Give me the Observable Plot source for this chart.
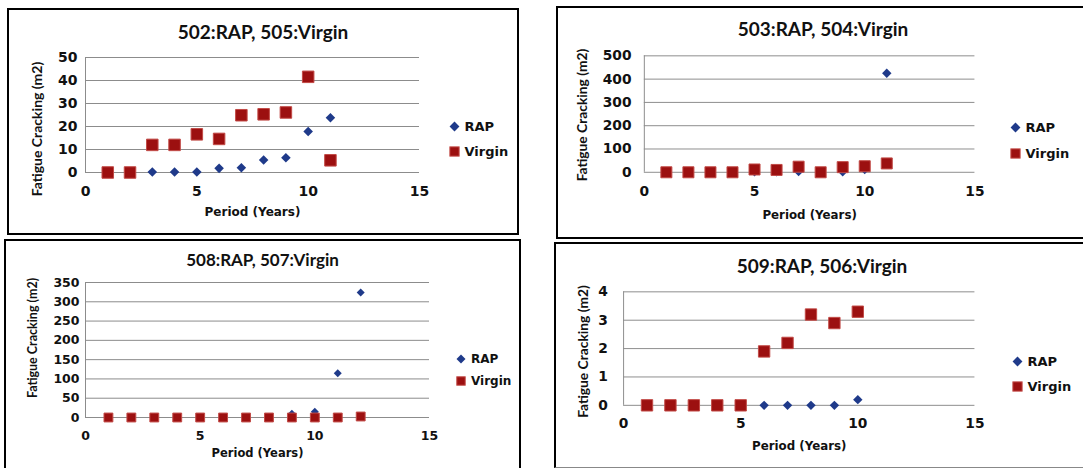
<!DOCTYPE html>
<html><head><meta charset="utf-8">
<script src="https://cdn.jsdelivr.net/npm/d3@7"></script>
<script src="https://cdn.jsdelivr.net/npm/@observablehq/plot@0.6"></script>
<style>
body{margin:0;background:#fff;font-family:Lato,"Open Sans",sans-serif;}
#root{position:relative;width:1083px;height:468px;overflow:hidden;background:#fff;}
.panel{position:absolute;box-sizing:border-box;}
.title{position:absolute;font-weight:700;text-align:center;color:#111;white-space:nowrap;line-height:1;}
.plotwrap{position:absolute;}
.plotwrap svg text{font-weight:700;fill:#111;}
.legend{position:absolute;font-weight:700;color:#111;white-space:nowrap;line-height:1;font-family:"DejaVu Sans",sans-serif;}
.legend .item{position:absolute;display:flex;align-items:center;}
.legend svg{margin-right:4px;}
</style></head><body><div id="root"></div>
<script>
// ---- Data ----
const xTicks = [0, 5, 10, 15];
const seriesNames = ["RAP", "Virgin"];
const yLabel = "Fatigue Cracking (m2)";
const xLabel = "Period (Years)";

// 502:RAP, 505:Virgin
const p1Title = "502:RAP, 505:Virgin";
const p1Periods = [1, 2, 3, 4, 5, 6, 7, 8, 9, 10, 11];
const p1Rap = [0, 0, 0.2, 0.2, 0.2, 1.8, 2.1, 5.4, 6.4, 17.8, 23.8];
const p1Virgin = [0, 0, 12, 12, 16.6, 14.6, 24.9, 25.3, 26.1, 41.6, 5.3];
const p1YTicks = [0, 10, 20, 30, 40, 50];

// 503:RAP, 504:Virgin
const p2Title = "503:RAP, 504:Virgin";
const p2Periods = [1, 2, 3, 4, 5, 6, 7, 8, 9, 10, 11];
const p2Rap = [0, 0, 0, 0, 2, 2, 3, 0, 2, 12, 425];
const p2Virgin = [0, 0, 0, 0, 12, 10, 24, 0, 22, 26, 38];
const p2YTicks = [0, 100, 200, 300, 400, 500];

// 508:RAP, 507:Virgin
const p3Title = "508:RAP, 507:Virgin";
const p3Periods = [1, 2, 3, 4, 5, 6, 7, 8, 9, 10, 11, 12];
const p3Rap = [0, 0, 0, 0, 0, 0, 0, 0, 10, 15, 115, 324];
const p3Virgin = [0, 0, 0, 0, 0, 0, 0, 0, 0, 0, 0, 2.6];
const p3YTicks = [0, 50, 100, 150, 200, 250, 300, 350];

// 509:RAP, 506:Virgin
const p4Title = "509:RAP, 506:Virgin";
const p4Periods = [1, 2, 3, 4, 5, 6, 7, 8, 9, 10];
const p4Rap = [0, 0, 0, 0, 0, 0, 0, 0, 0, 0.2];
const p4Virgin = [0, 0, 0, 0, 0, 1.9, 2.2, 3.2, 2.9, 3.3];
const p4YTicks = [0, 1, 2, 3, 4];

// ---- Styles ----
const RAP_COLOR = "#1f3a8a";
const VIRGIN_FILL = "#9c1010";
const VIRGIN_STROKE = "#c24a46";
const GRID = "#8c8c8c";
const TICK_FONT = "'DejaVu Sans', sans-serif";
const LABEL_FONT = "Lato, 'Open Sans', sans-serif";

const root = document.getElementById("root");

function legendSymbol(kind, size) {
  const ns = "http://www.w3.org/2000/svg";
  const s = document.createElementNS(ns, "svg");
  s.setAttribute("width", size + 2); s.setAttribute("height", size + 2);
  const c = (size + 2) / 2;
  if (kind === "RAP") {
    const h = size * 0.45;
    const p = document.createElementNS(ns, "path");
    p.setAttribute("d", `M${c},${c - h}L${c + h},${c}L${c},${c + h}L${c - h},${c}Z`);
    p.setAttribute("fill", RAP_COLOR);
    s.appendChild(p);
  } else {
    const h = size * 0.42;
    const r = document.createElementNS(ns, "rect");
    r.setAttribute("x", c - h); r.setAttribute("y", c - h);
    r.setAttribute("width", 2 * h); r.setAttribute("height", 2 * h);
    r.setAttribute("fill", VIRGIN_FILL); r.setAttribute("stroke", VIRGIN_STROKE);
    s.appendChild(r);
  }
  return s;
}

function makePanel(cfg) {
  const {box, area, border} = cfg;
  const panel = document.createElement("div");
  panel.className = "panel";
  Object.assign(panel.style, {
    left: box.l + "px", top: box.t + "px",
    width: (box.r - box.l) + "px", height: (box.b - box.t) + "px",
    borderTop: border.t, borderLeft: border.l, borderRight: border.r, borderBottom: border.b
  });
  root.appendChild(panel);

  const rows = [];
  cfg.periods.forEach((p, i) => rows.push({period: p, value: cfg.rap[i], series: seriesNames[0]}));
  cfg.periods.forEach((p, i) => rows.push({period: p, value: cfg.virgin[i], series: seriesNames[1]}));

  const W = box.r - box.l, H = box.b - box.t;
  const chart = Plot.plot({
    width: W, height: H,
    marginLeft: area.x0 - box.l,
    marginRight: box.r - area.x1,
    marginTop: area.y1 - box.t,
    marginBottom: box.b - area.y0,
    style: {fontFamily: LABEL_FONT, background: "transparent", overflow: "visible"},
    x: {domain: [0, 15]},
    y: {domain: [cfg.yTicks[0], cfg.yTicks[cfg.yTicks.length - 1]]},
    marks: [
      Plot.gridY(cfg.yTicks, {stroke: GRID, strokeOpacity: 1, strokeWidth: 1}),
      Plot.ruleX([0], {stroke: GRID, strokeWidth: 1}),
      Plot.axisX(xTicks, {tickSize: 0, tickPadding: cfg.xPad, fontSize: cfg.tickSize, fontWeight: 700,
        fontFamily: TICK_FONT, label: null, tickFormat: d => String(d)}),
      Plot.axisY(cfg.yTicks, {tickSize: 0, tickPadding: cfg.yPad, fontSize: cfg.tickSize, fontWeight: 700,
        fontFamily: TICK_FONT, label: null, tickFormat: d => String(d)}),
      Plot.text([xLabel], {frameAnchor: "bottom", dy: cfg.xLabelDy, text: d => d, fontSize: cfg.labelSize,
        fontWeight: 700, fontFamily: TICK_FONT, lineAnchor: "middle", textAnchor: "middle"}),
      Plot.text([yLabel], {frameAnchor: "left", dx: -cfg.yLabelDx, dy: cfg.yLabelDy, rotate: -90, text: d => d, fontSize: cfg.yLabelSize,
        fontWeight: 700, fontFamily: LABEL_FONT, lineAnchor: "middle", textAnchor: "middle"}),
      Plot.dot(rows.filter(d => d.series === "RAP"), {x: "period", y: "value", symbol: "diamond2", r: cfg.rapR, fill: RAP_COLOR}),
      Plot.dot(rows.filter(d => d.series === "Virgin"), {x: "period", y: "value", symbol: "square", r: cfg.virR, fill: VIRGIN_FILL, stroke: VIRGIN_STROKE, strokeWidth: 1})
    ]
  });
  const wrap = document.createElement("div");
  wrap.className = "plotwrap";
  Object.assign(wrap.style, {left: box.l + "px", top: box.t + "px"});
  wrap.appendChild(chart);
  root.appendChild(wrap);

  const t = document.createElement("div");
  t.className = "title";
  t.textContent = cfg.title;
  Object.assign(t.style, {left: box.l + "px", width: (box.r - box.l) + "px", top: (cfg.titleY - cfg.titleSize / 2) + "px", fontSize: cfg.titleSize + "px"});
  root.appendChild(t);

  const lg = document.createElement("div");
  lg.className = "legend";
  Object.assign(lg.style, {left: "0px", top: "0px", fontSize: cfg.legendSize + "px"});
  seriesNames.forEach((name, i) => {
    const it = document.createElement("div");
    it.className = "item";
    const sz = cfg.legendMarker;
    Object.assign(it.style, {left: (cfg.legend.x - (sz + 2) / 2) + "px", top: (cfg.legend.ys[i] - (sz + 2) / 2) + "px", height: (sz + 2) + "px"});
    it.appendChild(legendSymbol(name, sz));
    const sp = document.createElement("span");
    sp.textContent = name;
    it.appendChild(sp);
    lg.appendChild(it);
  });
  root.appendChild(lg);
}

const thick = "2.5px solid #000";
makePanel({
  title: p1Title, periods: p1Periods, rap: p1Rap, virgin: p1Virgin, yTicks: p1YTicks,
  box: {l: 7, t: 8, r: 519, b: 235}, border: {t: thick, l: thick, r: thick, b: thick},
  area: {x0: 85, x1: 419, y1: 57, y0: 172},
  tickSize: 14, labelSize: 12, yLabelSize: 14, xPad: 14, yPad: 8, xLabelDy: 40, yLabelDx: 48, yLabelDy: 14,
  titleY: 31, titleSize: 19, rapR: 4.3, virR: 6.5,
  legend: {x: 454, ys: [126, 151]}, legendSize: 13, legendMarker: 11
});
makePanel({
  title: p2Title, periods: p2Periods, rap: p2Rap, virgin: p2Virgin, yTicks: p2YTicks,
  box: {l: 556, t: 6, r: 1090, b: 239}, border: {t: thick, l: thick, r: thick, b: thick},
  area: {x0: 645, x1: 980, y1: 56, y0: 174},
  tickSize: 14, labelSize: 12, yLabelSize: 14, xPad: 14, yPad: 13, xLabelDy: 43, yLabelDx: 63, yLabelDy: 1,
  titleY: 28, titleSize: 19, rapR: 4.3, virR: 6.3,
  legend: {x: 1015, ys: [127, 153]}, legendSize: 13, legendMarker: 11
});
makePanel({
  title: p3Title, periods: p3Periods, rap: p3Rap, virgin: p3Virgin, yTicks: p3YTicks,
  box: {l: 4, t: 239, r: 521, b: 475}, border: {t: thick, l: thick, r: thick, b: thick},
  area: {x0: 85, x1: 429, y1: 282, y0: 417},
  tickSize: 12.5, labelSize: 11.5, yLabelSize: 12.5, xPad: 14, yPad: 6, xLabelDy: 36, yLabelDx: 53, yLabelDy: -12,
  titleY: 259, titleSize: 17, rapR: 3.6, virR: 5,
  legend: {x: 461, ys: [359, 381]}, legendSize: 12, legendMarker: 10
});
makePanel({
  title: p4Title, periods: p4Periods, rap: p4Rap, virgin: p4Virgin, yTicks: p4YTicks,
  box: {l: 554, t: 242, r: 1090, b: 468}, border: {t: thick, l: thick, r: thick, b: "1.5px solid #888"},
  area: {x0: 624, x1: 980, y1: 292, y0: 407},
  tickSize: 14, labelSize: 12, yLabelSize: 14, xPad: 13, yPad: 16, xLabelDy: 41, yLabelDx: 41, yLabelDy: 3,
  titleY: 265, titleSize: 19, rapR: 4.3, virR: 6.5,
  legend: {x: 1017, ys: [361, 386]}, legendSize: 13, legendMarker: 11
});
</script>
</body></html>
